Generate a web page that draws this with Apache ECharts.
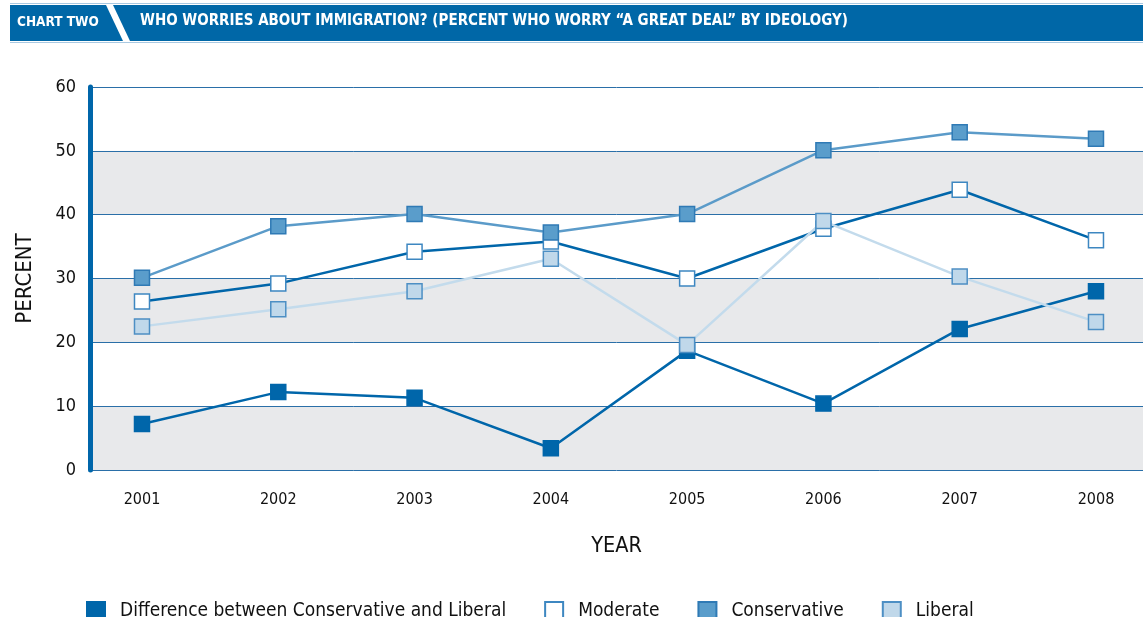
<!DOCTYPE html>
<html>
<head>
<meta charset="utf-8">
<script src="https://cdn.jsdelivr.net/npm/echarts@6/dist/echarts.min.js"></script>
<style>
  html, body { margin: 0; padding: 0; background: #fff; }
  #chart { width: 1143px; height: 617px; }
</style>
</head>
<body>
<div id="chart"></div>
<script>
const years = [2001, 2002, 2003, 2004, 2005, 2006, 2007, 2008]
const difference = [7.2, 12.2, 11.3, 3.4, 18.7, 10.4, 22.1, 28.0]
const moderate = [26.4, 29.2, 34.2, 35.8, 30.0, 37.8, 43.9, 36.0]
const conservative = [30.1, 38.2, 40.1, 37.2, 40.1, 50.1, 52.9, 51.9]
const liberal = [22.5, 25.2, 28.0, 33.1, 19.6, 39.0, 30.3, 23.2]
const yTicks = [0, 10, 20, 30, 40, 50, 60]

const narrow = '"DejaVu Sans Condensed", "Liberation Sans Narrow", sans-serif'
const dark = '#0066aa'

const pairs = (vals) => vals.map((v, i) => [years[i], v])

const makeSeries = (name, vals, lineColor, fill, border) => ({
  name: name,
  type: 'line',
  data: pairs(vals),
  symbol: 'rect',
  symbolSize: 15,
  lineStyle: { color: lineColor, width: 2.5 },
  itemStyle: { color: fill, borderColor: border, borderWidth: 1.5 },
  emphasis: { disabled: true },
  animation: false
})

const chart = echarts.init(document.getElementById('chart'))
const option = {
  animation: false,
  graphic: [
    // header band
    { type: 'rect', shape: { x: 10, y: 3, width: 1133, height: 1 }, style: { fill: '#a9c9e2' } },
    { type: 'rect', shape: { x: 10, y: 5, width: 1133, height: 36 }, style: { fill: '#0067a7' } },
    { type: 'rect', shape: { x: 10, y: 42, width: 1133, height: 1 }, style: { fill: '#a9c9e2' } },
    { type: 'polygon', shape: { points: [[106, 5], [113, 5], [130, 41], [123, 41]] }, style: { fill: '#fff' } },
    {
      type: 'text', left: 17, top: 15,
      style: { text: 'CHART TWO', fill: '#fff', font: 'bold 13.5px ' + narrow }
    },
    {
      type: 'text', left: 140, top: 14,
      style: { text: 'WHO WORRIES ABOUT IMMIGRATION? (PERCENT WHO WORRY \u201cA GREAT DEAL\u201d BY IDEOLOGY)', fill: '#fff', font: 'bold 15px ' + narrow }
    }
  ],
  grid: { left: 90, right: 0, top: 87, bottom: 147, containLabel: false },
  legend: {
    left: 81,
    top: 596,
    icon: 'rect',
    itemWidth: 18,
    itemHeight: 18,
    itemGap: 38,
    textStyle: { fontFamily: narrow, fontSize: 19, color: '#111', padding: [0, 0, 0, 10] },
    data: ['Difference between Conservative and Liberal', 'Moderate', 'Conservative', 'Liberal']
  },
  xAxis: {
    type: 'value',
    min: 2000.6185,
    max: 2008.345,
    name: 'YEAR',
    nameLocation: 'middle',
    nameGap: 65,
    nameTextStyle: { fontFamily: narrow, fontSize: 21.5, color: '#111' },
    axisLine: { show: false },
    axisTick: { show: false },
    splitLine: { show: false },
    axisLabel: {
      customValues: years,
      margin: 22,
      fontFamily: narrow,
      fontSize: 16,
      color: '#111',
      formatter: (v) => String(v)
    }
  },
  yAxis: {
    type: 'value',
    min: 0,
    max: 60,
    interval: 10,
    name: 'PERCENT',
    nameLocation: 'middle',
    nameRotate: 90,
    nameGap: 54,
    nameTextStyle: { fontFamily: narrow, fontSize: 22, color: '#111' },
    axisLine: { show: true, onZero: false, lineStyle: { color: dark, width: 5 } },
    axisTick: { show: false },
    axisLabel: {
      margin: 14,
      fontFamily: narrow,
      fontSize: 18,
      color: '#111',
      formatter: (v) => (yTicks.includes(v) ? String(v) : '')
    },
    splitLine: { show: true, lineStyle: { color: '#2a6fa8', width: 1 } },
    splitArea: { show: true, areaStyle: { color: ['#e8e9eb', '#ffffff'] } }
  },
  series: [
    makeSeries('Difference between Conservative and Liberal', difference, dark, dark, dark),
    makeSeries('Moderate', moderate, dark, '#ffffff', '#3d87c1'),
    makeSeries('Conservative', conservative, '#5b9bc9', '#5a9dcb', '#2f7ab5'),
    makeSeries('Liberal', liberal, '#c3dbec', '#c0d8ea', '#4d8fc4')
  ]
}
chart.setOption(option)
</script>
</body>
</html>
